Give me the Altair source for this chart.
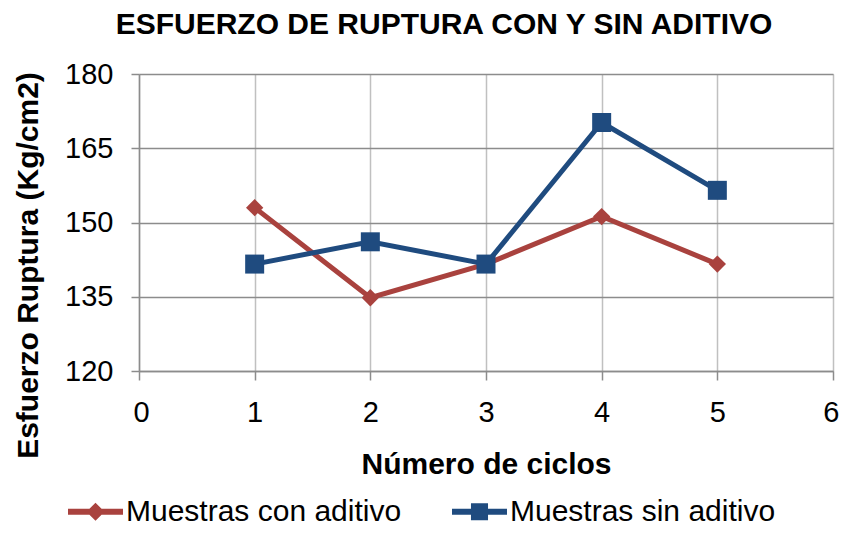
import altair as alt
import pandas as pd

# ---- data ----
ciclos = [1, 2, 3, 4, 5]
con_aditivo = [153.0, 134.8, 141.6, 151.2, 141.6]
sin_aditivo = [141.6, 146.1, 141.6, 170.2, 156.5]
series = ["Muestras con aditivo", "Muestras sin aditivo"]
colors = ["#A9423E", "#1F4B7F"]
x_ticks = [0, 1, 2, 3, 4, 5, 6]
y_ticks = [120, 135, 150, 165, 180]

rows = []
for s, vals in zip(series, [con_aditivo, sin_aditivo]):
    for c, v in zip(ciclos, vals):
        rows.append({"Serie": s, "Ciclo": c, "Esfuerzo": v})
df = pd.DataFrame(rows)

FONT = "Liberation Sans"

# legend symbols: a short line with the marker on it
diamond_path = "M-1,-0.11L1,-0.11L1,0.11L-1,0.11ZM0,-0.33L0.33,0L0,0.33L-0.33,0Z"
square_path = "M-1,-0.11L1,-0.11L1,0.11L-1,0.11ZM-0.31,-0.31L0.31,-0.31L0.31,0.31L-0.31,0.31Z"

x_enc = alt.X(
    "Ciclo:Q",
    scale=alt.Scale(domain=[0, 6], nice=False, zero=False),
    axis=alt.Axis(
        values=x_ticks,
        title="Número de ciclos",
        titleFont=FONT,
        titleFontSize=30,
        titleFontWeight="bold",
        titleColor="black",
        titlePadding=22,
        labelFont=FONT,
        labelFontSize=29,
        labelColor="black",
        labelPadding=18,
        labelFlush=True,
        labelFlushOffset=6,
        tickSize=9,
        tickColor="#8c8c8c",
        tickWidth=1.5,
        domainColor="#8c8c8c",
        domainWidth=1.5,
        gridColor="#c0c0c0",
        gridWidth=1.5,
        format="d",
    ),
)
y_enc = alt.Y(
    "Esfuerzo:Q",
    scale=alt.Scale(domain=[120, 180], nice=False, zero=False),
    axis=alt.Axis(
        values=y_ticks,
        title="Esfuerzo Ruptura (Kg/cm2)",
        titleFont=FONT,
        titleFontSize=30,
        titleFontWeight="bold",
        titleColor="black",
        titleAngle=270,
        titleX=-111,
        titleY=191,
        titleAlign="center",
        titleBaseline="middle",
        labelFont=FONT,
        labelFontSize=29,
        labelColor="black",
        labelPadding=18,
        tickSize=8,
        tickColor="#8c8c8c",
        tickWidth=1.5,
        domainColor="#8c8c8c",
        domainWidth=1.5,
        gridColor="#8c8c8c",
        gridWidth=1.5,
    ),
)

color_scale = alt.Scale(domain=series, range=colors)

legend_def = alt.Legend(
    title=None,
    orient="none",
    legendX=-71,
    legendY=410,
    direction="horizontal",
    padding=0,
    symbolSize=3025,
    symbolStrokeWidth=0,
    symbolOpacity=1,
    labelOffset=3,
    labelLimit=500,
    columnPadding=50,
    labelFont=FONT,
    labelFontSize=30,
    labelColor="black",
)


def series_line(i):
    return (
        alt.Chart(df)
        .transform_filter(alt.datum.Serie == series[i])
        .mark_line(strokeWidth=5, color=colors[i])
        .encode(x=x_enc, y=y_enc)
    )


def series_points(i, shape, size):
    return (
        alt.Chart(df)
        .transform_filter(alt.datum.Serie == series[i])
        .mark_point(filled=True, opacity=1, shape=shape, size=size, color=colors[i])
        .encode(x=x_enc, y=y_enc)
    )


legend_layer = (
    alt.Chart(df)
    .transform_filter("false")
    .mark_point(filled=True, opacity=1)
    .encode(
        x=x_enc,
        y=y_enc,
        color=alt.Color("Serie:N", scale=color_scale, legend=legend_def),
        shape=alt.Shape(
            "Serie:N",
            scale=alt.Scale(domain=series, range=[diamond_path, square_path]),
            legend=legend_def,
        ),
    )
)

chart = (
    alt.layer(
        series_line(0),
        series_points(0, "diamond", 300),
        series_line(1),
        series_points(1, "square", 361),
        legend_layer,
    )
    .properties(
        width=694,
        height=297,
        autosize=alt.AutoSizeParams(type="none"),
        padding={"left": 131, "top": 66, "right": 7, "bottom": 156},
        title=alt.TitleParams(
            text="ESFUERZO DE RUPTURA CON Y SIN ADITIVO",
            font=FONT,
            fontSize=30,
            fontWeight="bold",
            color="black",
            anchor="middle",
            frame="group",
            dx=-42,
            offset=20,
        ),
    )
    .configure_view(stroke=None)
    .configure(background="white")
)

chart.save("out.html", embed_options={"renderer": "svg", "actions": False})
